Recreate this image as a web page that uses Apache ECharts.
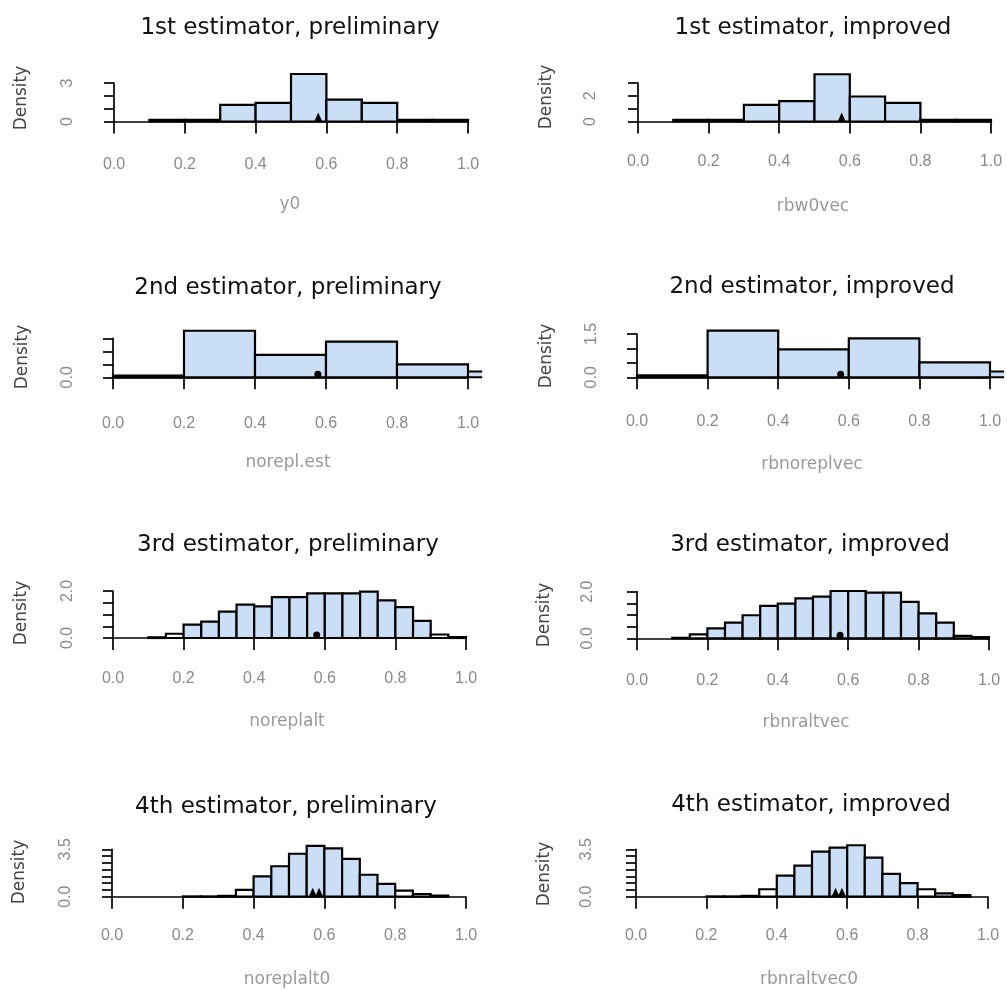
<!DOCTYPE html>
<html>
<head>
<meta charset="utf-8">
<script src="https://cdn.jsdelivr.net/npm/echarts@6/dist/echarts.min.js"></script>
<style>
html,body{margin:0;padding:0;background:#fff;}
#chart{width:1007px;height:990px;}
</style>
</head>
<body>
<div id="chart"></div>
<script>
// ---------------- DATA ----------------
const titles = [
  '1st estimator, preliminary', '1st estimator, improved',
  '2nd estimator, preliminary', '2nd estimator, improved',
  '3rd estimator, preliminary', '3rd estimator, improved',
  '4th estimator, preliminary', '4th estimator, improved'
];
const xNames = ['y0', 'rbw0vec', 'norepl.est', 'rbnoreplvec', 'noreplalt', 'rbnraltvec', 'noreplalt0', 'rbnraltvec0'];
const xTickValues = [0, 0.2, 0.4, 0.6, 0.8, 1.0];

// histogram bin breaks
const breaksW10 = [0.1, 0.2, 0.3, 0.4, 0.5, 0.6, 0.7, 0.8, 0.9, 1.0];
const breaksW20 = [0.0, 0.2, 0.4, 0.6, 0.8, 1.0, 1.2];
const breaks3rd = [0.10, 0.15, 0.20, 0.25, 0.30, 0.35, 0.40, 0.45, 0.50, 0.55, 0.60, 0.65, 0.70, 0.75, 0.80, 0.85, 0.90, 0.95, 1.00];
const breaks4th = [0.20, 0.25, 0.30, 0.35, 0.40, 0.45, 0.50, 0.55, 0.60, 0.65, 0.70, 0.75, 0.80, 0.85, 0.90, 0.95];

// densities
const dens1Pre = [0.13, 0.13, 1.3, 1.45, 3.7, 1.7, 1.45, 0.13, 0.13];
const dens1Imp = [0.13, 0.13, 1.3, 1.58, 3.68, 1.95, 1.45, 0.13, 0.13];
const dens2Pre = [0.07, 1.79, 0.86, 1.37, 0.5, 0.22];
const dens2Imp = [0.07, 1.62, 0.97, 1.35, 0.52, 0.2];
const dens3Pre = [0.03, 0.18, 0.57, 0.7, 1.12, 1.42, 1.35, 1.74, 1.74, 1.9, 1.9, 1.9, 1.97, 1.6, 1.31, 0.73, 0.15, 0.04];
const dens3Imp = [0.02, 0.17, 0.43, 0.67, 0.99, 1.39, 1.49, 1.71, 1.79, 2.03, 2.03, 1.96, 1.96, 1.56, 1.07, 0.67, 0.1, 0.05];
const dens4Pre = [0.02, 0.02, 0.06, 0.5, 1.5, 2.25, 3.17, 3.75, 3.57, 2.8, 1.62, 0.95, 0.45, 0.2, 0.08];
const dens4Imp = [0.02, 0.02, 0.06, 0.55, 1.55, 2.3, 3.33, 3.63, 3.8, 2.88, 1.68, 1.0, 0.55, 0.25, 0.12];

// true-value markers
const truthSingle = [0.577];
const truthDouble = [0.567, 0.585];

// y-axis ticks: max and step, and labels that are printed
const yMaxs = [3, 3, 1.5, 1.5, 2, 2, 3.5, 3.5];
const ySteps = [1, 1, 0.5, 0.5, 0.5, 0.5, 0.5, 0.5];
const yShown = [[0, 3], [0, 2], [0], [0, 1.5], [0, 2], [0, 2], [0, 3.5], [0, 3.5]];
const yDecimals = [0, 0, 1, 1, 1, 1, 1, 1];

const panelBreaks = [breaksW10, breaksW10, breaksW20, breaksW20, breaks3rd, breaks3rd, breaks4th, breaks4th];
const panelDens = [dens1Pre, dens1Imp, dens2Pre, dens2Imp, dens3Pre, dens3Imp, dens4Pre, dens4Imp];
const panelTruth = [truthSingle, truthSingle, truthSingle, truthSingle, truthSingle, truthSingle, truthDouble, truthDouble];

// ---------------- LAYOUT / STYLE ----------------
const L = [
  {x0:114, x1:468, y0:121.5, yT:83,    ax:99,  xoff:2, lm:33, title:[290,28],  xn:[290,205], dn:[22,98]},
  {x0:638, x1:991, y0:121.5, yT:83,    ax:622, xoff:2, lm:30, title:[813,28],  xn:[813,207], dn:[547,97]},
  {x0:113, x1:468, y0:377.3, yT:338.3, ax:99,  xoff:1, lm:37, title:[288,288], xn:[288,463], dn:[23,357]},
  {x0:637, x1:990, y0:377.3, yT:334,   ax:623, xoff:1, lm:35, title:[812,287], xn:[812,465], dn:[547,356]},
  {x0:113, x1:466, y0:638,   yT:591,   ax:99,  xoff:2, lm:31, title:[288,545], xn:[287,722], dn:[22,613]},
  {x0:637, x1:989, y0:638.3, yT:591.7, ax:619, xoff:2, lm:32, title:[810,545], xn:[806,723], dn:[545,615]},
  {x0:112, x1:466, y0:896.7, yT:849.3, ax:97,  xoff:2, lm:29, title:[286,807], xn:[287,980], dn:[20,872]},
  {x0:636, x1:988, y0:896.7, yT:849.3, ax:618, xoff:2, lm:29, title:[811,805], xn:[809,980], dn:[545,874]}
];
const whiteBins = [[], [], [], [], [1, 16], [1, 16], [3, 12], [3, 12]];
const truthSymbol = ['triangle', 'triangle', 'circle', 'circle', 'circle', 'circle', 'triangle', 'triangle'];
const BAR_FILL = '#cadff6';
const XCLIP = 1.04;

const grids = [], xAxes = [], yAxes = [], series = [], graphics = [];

L.forEach((p, i) => {
  grids.push({left: p.x0, top: p.yT, width: p.x1 - p.x0, height: p.y0 - p.yT});
  xAxes.push({
    type: 'value', gridIndex: i, min: 0, max: 1, interval: 0.2, offset: p.xoff,
    axisLine: {show: true, lineStyle: {color: '#000', width: 1.7}},
    axisTick: {show: true, length: 12, lineStyle: {color: '#000', width: 1.7}},
    axisLabel: {margin: p.lm, color: '#8a8a8a', fontFamily: 'Liberation Sans', fontSize: 16,
      formatter: v => xTickValues.some(t => Math.abs(t - v) < 1e-9) ? v.toFixed(1) : ''},
    splitLine: {show: false}
  });
  const shown = yShown[i], dec = yDecimals[i];
  yAxes.push({
    type: 'value', gridIndex: i, min: 0, max: yMaxs[i], interval: ySteps[i], offset: p.x0 - p.ax,
    axisLine: {show: true, lineStyle: {color: '#000', width: 1.7}},
    axisTick: {show: true, length: 10, lineStyle: {color: '#000', width: 1.7}},
    axisLabel: {rotate: 90, margin: 23, color: '#8a8a8a', fontFamily: 'Liberation Sans', fontSize: 16,
      showMinLabel: true, showMaxLabel: true, hideOverlap: false,
      formatter: v => shown.some(s => Math.abs(s - v) < 1e-9) ? v.toFixed(dec) : ''},
    splitLine: {show: false}
  });

  const br = panelBreaks[i], dn = panelDens[i], wb = whiteBins[i];
  const data = dn.map((d, k) => [br[k], br[k + 1], d, k]);
  series.push({
    type: 'custom', xAxisIndex: i, yAxisIndex: i, clip: false, silent: true,
    data: data,
    renderItem: function (params, api) {
      const a = api.value(0), b0 = api.value(1), h = api.value(2), k = api.value(3);
      const clipped = b0 > XCLIP;
      const b = clipped ? XCLIP : b0;
      const pb = api.coord([a, 0]), pt = api.coord([b, h]);
      const fill = wb.indexOf(k) >= 0 ? '#ffffff' : BAR_FILL;
      const rect = {type: 'rect', shape: {x: pb[0], y: pt[1], width: pt[0] - pb[0], height: pb[1] - pt[1]},
        style: {fill: fill, stroke: clipped ? null : '#000', lineWidth: 2.2}};
      if (!clipped) return rect;
      return {type: 'group', children: [
        {type: 'rect', shape: rect.shape, style: {fill: fill, stroke: null}},
        {type: 'polyline', shape: {points: [[pt[0], pb[1]], [pb[0], pb[1]], [pb[0], pt[1]], [pt[0], pt[1]]]},
          style: {stroke: '#000', lineWidth: 2, fill: null}}
      ]};
    }
  });
  const tri = truthSymbol[i] === 'triangle';
  series.push({
    type: 'scatter', xAxisIndex: i, yAxisIndex: i, silent: true, z: 5,
    symbol: truthSymbol[i], symbolSize: tri ? [8, 9] : 7, symbolOffset: [0, tri ? -4.5 : -3],
    itemStyle: {color: '#000', opacity: 1},
    data: panelTruth[i].map(v => [v, 0])
  });

  graphics.push({type: 'text', x: p.title[0], y: p.title[1], silent: true,
    style: {text: titles[i], x: 0, y: 0, align: 'center', verticalAlign: 'middle', textAlign: 'center', textVerticalAlign: 'middle',
      font: '23px "DejaVu Sans"', fill: '#111'}});
  graphics.push({type: 'text', x: p.xn[0], y: p.xn[1], silent: true,
    style: {text: xNames[i], x: 0, y: 0, align: 'center', verticalAlign: 'middle', textAlign: 'center', textVerticalAlign: 'middle',
      font: '17px "DejaVu Sans"', fill: '#999'}});
  graphics.push({type: 'text', x: p.dn[0], y: p.dn[1], rotation: Math.PI / 2, silent: true,
    style: {text: 'Density', x: 0, y: 0, align: 'center', verticalAlign: 'middle', textAlign: 'center', textVerticalAlign: 'middle',
      font: '17px "DejaVu Sans"', fill: '#444'}});
});

const chart = echarts.init(document.getElementById('chart'), null, {renderer: 'canvas'});
chart.setOption({
  animation: false,
  backgroundColor: '#ffffff',
  grid: grids, xAxis: xAxes, yAxis: yAxes, series: series,
  graphic: {elements: graphics}
});
</script>
</body>
</html>
